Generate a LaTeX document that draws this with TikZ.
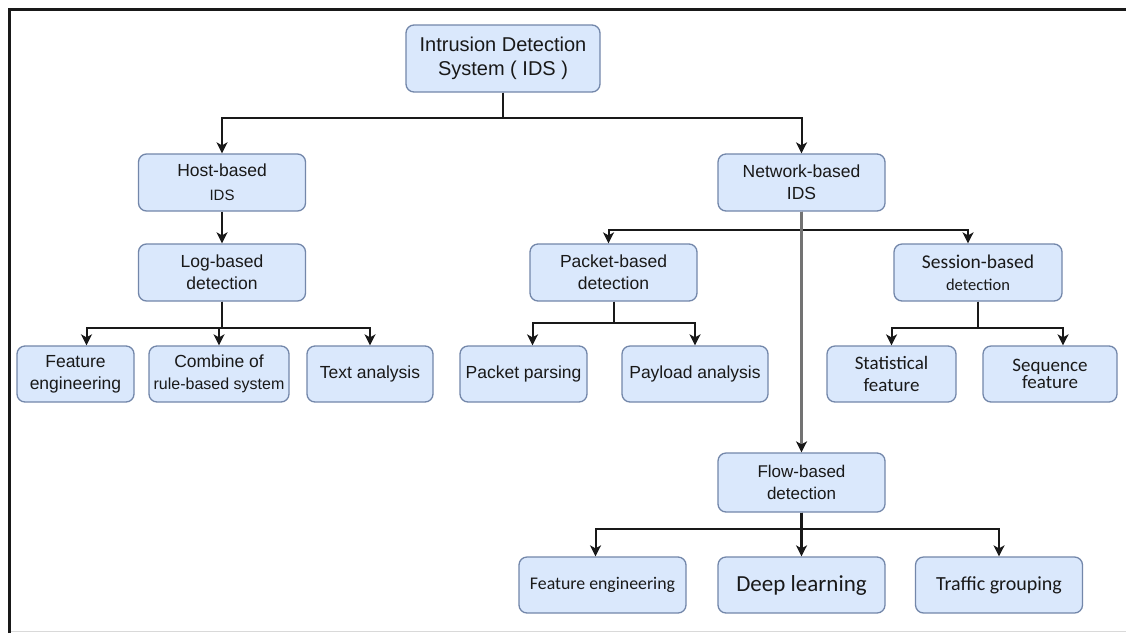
\documentclass[tikz,border=0pt]{standalone}
\usepackage{fontspec}
\setmainfont{Liberation Sans}
\newfontfamily\calibri{Carlito}
\usetikzlibrary{arrows.meta, positioning}
\definecolor{boxblue}{RGB}{218,232,252}
\definecolor{boxedge}{RGB}{115,135,170}
\definecolor{inkgray}{RGB}{25,25,25}
\definecolor{trunkgray}{RGB}{115,115,115}

\begin{document}
\begin{tikzpicture}[x=1pt, y=-1pt,
  idsbox/.style={draw=boxedge, fill=boxblue, rounded corners=8pt, line width=1.3pt, align=center, inner sep=0pt, text=inkgray, font=\fontsize{17.5}{22}\selectfont, minimum width=167pt, minimum height=57pt},
  leafbox/.style={idsbox, minimum height=56pt},
  conn/.style={draw=inkgray, line width=2pt, -{Stealth[length=11pt, width=11pt, inset=3pt, color=inkgray]}}
]
  \useasboundingbox (0,0) rectangle (1126,633);
  \fill[white] (0,0) rectangle (1126,633);
  \draw[gray!30, line width=1pt] (9.5,631.5) -- (1126,631.5);
  \draw[inkgray, line width=3pt] (9.5,633) -- (9.5,9.5) -- (1126,9.5);

  \node[idsbox, minimum width=194pt, minimum height=67pt, font=\fontsize{20}{24}\selectfont] (ids) at (503,58.5) {Intrusion Detection\\System ( IDS )};

  \node[idsbox] (host) at (222,182.5) {Host-based\\[2pt]{\fontsize{15}{18}\selectfont IDS}};
  \node[idsbox] (net) at (801.5,182.5) {Network-based\\IDS};

  \node[idsbox] (log) at (222,272.5) {Log-based\\detection};
  \node[idsbox] (pkt) at (613.5,272.5) {Packet-based\\detection};
  \node[idsbox, minimum width=168pt, font=\calibri\fontsize{19.5}{22}\selectfont] (ses) at (978,272.5) {Session-based\\{\fontsize{16.5}{20}\selectfont detection}};

  \node[leafbox, minimum width=117pt] (fe1) at (75.5,374) {Feature\\engineering};
  \node[leafbox, minimum width=140pt] (comb) at (219,374) {Combine of\\{\fontsize{16}{20}\selectfont rule-based system}};
  \node[leafbox, minimum width=126pt] (txt) at (370,374) {Text analysis};
  \node[leafbox, minimum width=127pt] (pars) at (523.5,374) {Packet parsing};
  \node[leafbox, minimum width=146pt] (pay) at (695,374) {Payload analysis};
  \node[leafbox, minimum width=129pt, font=\calibri\fontsize{19}{22}\selectfont] (stat) at (891.5,374) {Statistical\\feature};
  \node[leafbox, minimum width=134pt, font=\calibri\fontsize{19}{16}\selectfont] (seq) at (1050,374) {Sequence\\feature};

  \node[idsbox, minimum height=59pt, font=\fontsize{17}{22}\selectfont] (flow) at (801.5,482.5) {Flow-based\\detection};

  \node[leafbox, font=\calibri\fontsize{17.8}{22}\selectfont] (fe2) at (602.5,585) {Feature engineering};
  \node[leafbox, font=\calibri\fontsize{23}{26}\selectfont] (deep) at (801.5,585) {Deep learning};
  \node[leafbox, font=\calibri\fontsize{20}{24}\selectfont] (traf) at (999,585) {Traffic grouping};

  \draw[conn] (ids.south) -- ++(0,25) -| (host.north);
  \draw[conn] (ids.south) -- ++(0,25) -| (net.north);
  \draw[conn] (host) -- (log);

  \draw[conn] (log.south) -- ++(0,26) -| ([xshift=11pt]fe1.north);
  \draw[conn] (log.south) -- ++(0,26) -| (comb.north);
  \draw[conn] (log.south) -- ++(0,26) -| (txt.north);

  \draw[conn] (net.south) -- ++(0,18) -| ([xshift=-5pt]pkt.north);
  \draw[conn] (net.south) -- ++(0,18) -| ([xshift=-10pt]ses.north);

  \draw[conn] (pkt.south) -- ++(0,21) -| ([xshift=9pt]pars.north);
  \draw[conn] (pkt.south) -- ++(0,21) -| (pay.north);

  \draw[conn] (ses.south) -- ++(0,26) -| (stat.north);
  \draw[conn] (ses.south) -- ++(0,26) -| ([xshift=13pt]seq.north);

  \draw[conn, draw=trunkgray, line width=2.6pt] (net.south) -- (flow.north);

  \draw[conn] (flow.south) -- ++(0,16) -| ([xshift=-7pt]fe2.north);
  \draw[conn] (flow.south) -- ++(0,16) -| (traf.north);
  \draw[conn, line width=2.8pt] (flow) -- (deep);
\end{tikzpicture}
\end{document}
